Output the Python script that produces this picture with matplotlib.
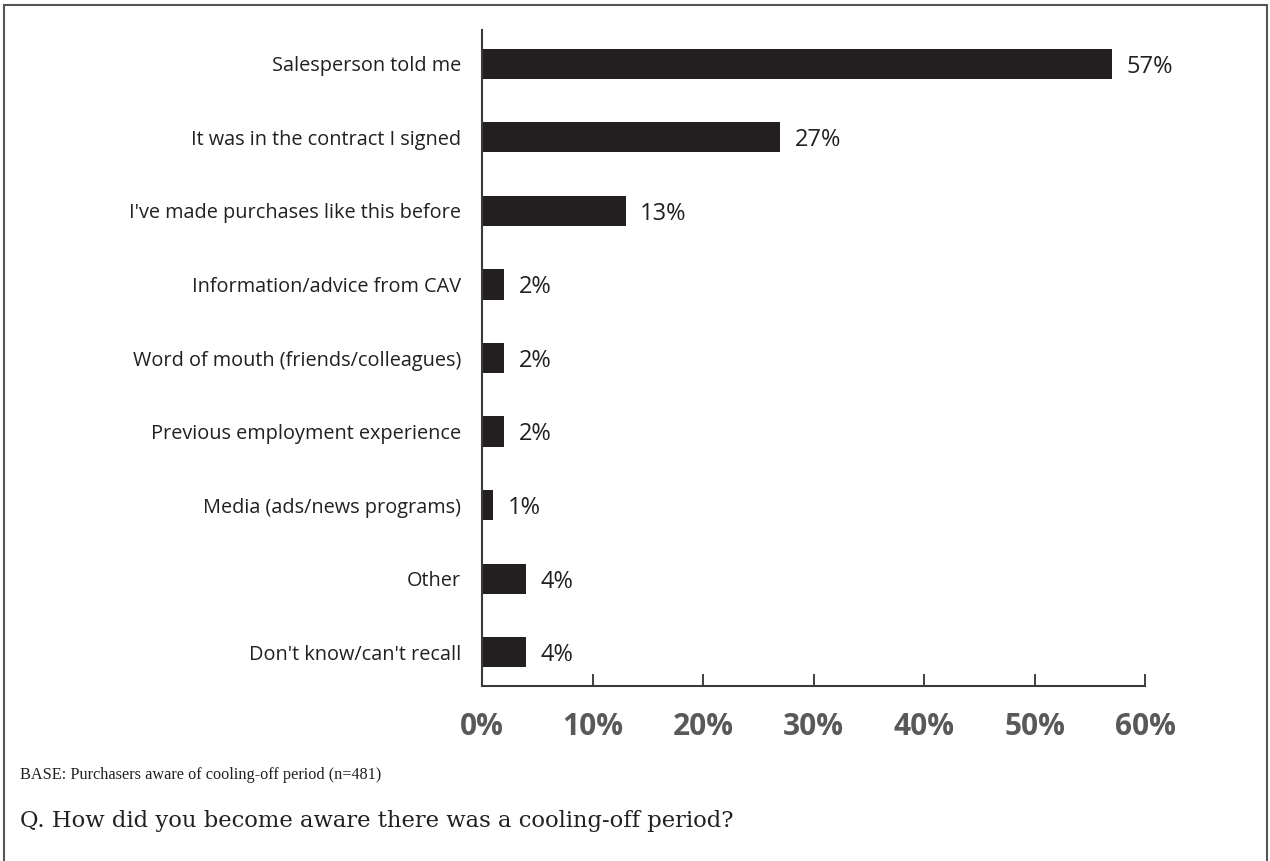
import matplotlib.pyplot as plt
from matplotlib.patches import Rectangle

# Survey responses: how purchasers learned about the cooling-off period
sources = [
    "Salesperson told me",
    "It was in the contract I signed",
    "I've made purchases like this before",
    "Information/advice from CAV",
    "Word of mouth (friends/colleagues)",
    "Previous employment experience",
    "Media (ads/news programs)",
    "Other",
    "Don't know/can't recall",
]
shares = [57, 27, 13, 2, 2, 2, 1, 4, 4]
tick_values = [0, 10, 20, 30, 40, 50, 60]

bar_color = "#231f20"
tick_color = "#58595b"

fig = plt.figure(figsize=(12.70, 8.61), dpi=100)

# outer frame round the whole graphic
fig.patches.append(Rectangle((4 / 1270, -0.01), 1263 / 1270, 1 - 5 / 861 + 0.01,
                             transform=fig.transFigure, fill=False,
                             edgecolor="#555555", linewidth=1.5))

ax = fig.add_axes([482 / 1270, 1 - 686 / 861, (1145 - 482) / 1270, (686 - 30) / 861])

ypos = list(range(len(sources)))
bars = ax.barh(ypos, shares, height=0.41, color=bar_color)

ax.set_xlim(0, 60)
ax.set_ylim(len(sources) - 0.54, -0.46)

ax.set_yticks(ypos)
ax.set_yticklabels(sources, family="Open Sans", fontsize=14.3, color="#231f20")
ax.tick_params(axis="y", length=0, pad=15)

ax.set_xticks(tick_values)
ax.set_xticklabels([f"{v}%" for v in tick_values], family="Open Sans",
                   fontweight="bold", fontsize=21.5, color=tick_color)
ax.tick_params(axis="x", direction="in", length=9, width=1.2, color="#231f20", pad=19)

for side in ["top", "right"]:
    ax.spines[side].set_visible(False)
for side in ["left", "bottom"]:
    ax.spines[side].set_color("#3a3a3a")
    ax.spines[side].set_linewidth(1.5)

# value labels next to each bar
for bar, v in zip(bars, shares):
    ax.text(bar.get_width() + 1.3, bar.get_y() + bar.get_height() / 2 + 0.04, f"{v}%",
            va="center", ha="left", family="Open Sans", fontsize=17, color="#231f20")

fig.text(20 / 1270, 1 - 775 / 861, "BASE: Purchasers aware of cooling-off period (n=481)",
         family="Liberation Serif", fontsize=11.7, color="#231f20", va="center")
fig.text(20 / 1270, 1 - 821 / 861, "Q. How did you become aware there was a cooling-off period?",
         family="DejaVu Serif", fontsize=16.3, color="#231f20", va="center")

fig.savefig("out.png", dpi=100)
